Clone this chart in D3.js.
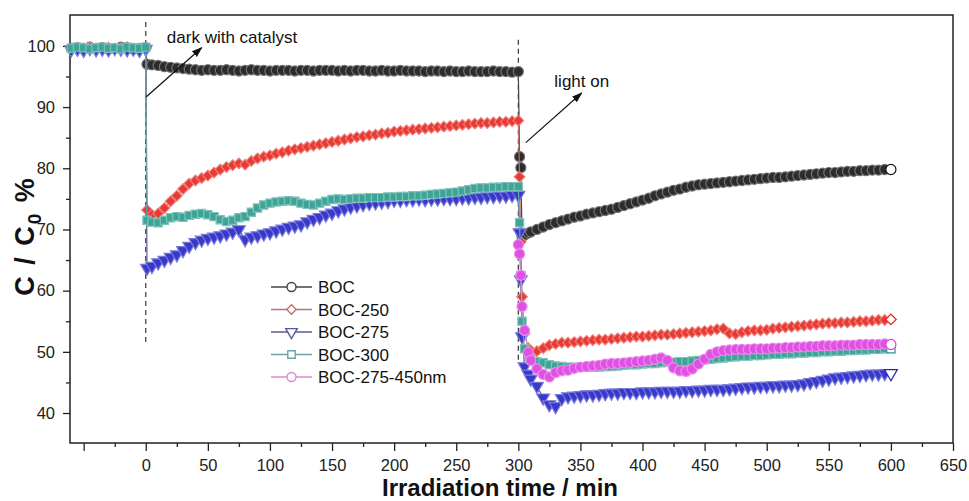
<!DOCTYPE html>
<html>
<head>
<meta charset="utf-8">
<script src="https://cdn.jsdelivr.net/npm/d3@7/dist/d3.min.js"></script>
<style>
body { margin: 0; background: #fff; }
svg text { font-family: Arial, "Liberation Sans", sans-serif; fill: #111; }
</style>
</head>
<body>
<svg id="chart" width="969" height="501"></svg>
<script>
// sampling times (min): dark equilibrium, adsorption in dark, then light on at 300
var times = [
    -60, -55, -50, -45, -40, -35, -30, -25, -20, -15, -10, -5, 0,
    1, 5, 10, 15, 20, 25, 30, 35, 40, 45,
    50, 55, 60, 65, 70, 75, 80, 85, 90, 95,
    100, 105, 110, 115, 120, 125, 130, 135, 140, 145,
    150, 155, 160, 165, 170, 175, 180, 185, 190, 195,
    200, 205, 210, 215, 220, 225, 230, 235, 240, 245,
    250, 255, 260, 265, 270, 275, 280, 285, 290, 295,
    300,
    301, 302, 303, 305, 308,
    310, 315, 320, 325, 330, 335, 340, 345, 350, 355,
    360, 365, 370, 375, 380, 385, 390, 395, 400, 405,
    410, 415, 420, 425, 430, 435, 440, 445, 450, 455,
    460, 465, 470, 475, 480, 485, 490, 495, 500, 505,
    510, 515, 520, 525, 530, 535, 540, 545, 550, 555,
    560, 565, 570, 575, 580, 585, 590, 595, 600
];

var boc = [
    99.6, 99.7, 99.5, 99.8, 99.6, 99.7, 99.5, 99.6, 99.8, 99.7, 99.5, 99.6, 99.7,
    97.0, 96.9, 96.8, 96.6, 96.5, 96.4, 96.3, 96.2, 96.1, 96.0,
    96.1, 96.0, 96.0, 96.1, 96.0, 95.9, 96.0, 96.1, 96.0, 96.0,
    95.9, 96.0, 96.0, 96.0, 95.9, 96.0, 96.0, 95.9, 96.0, 96.0,
    96.0, 95.9, 96.0, 95.9, 96.0, 96.0, 95.9, 95.9, 96.0, 95.9,
    95.9, 96.0, 95.9, 95.9, 95.9, 95.8, 95.9, 95.9, 95.8, 95.9,
    95.8, 95.8, 95.9, 95.8, 95.8, 95.8, 95.9, 95.8, 95.8, 95.7,
    95.8,
    81.9, 80.1, 68.8, 69.1, 69.4,
    69.6, 70.0, 70.4, 70.8, 71.1, 71.4, 71.7, 72.0, 72.2, 72.5,
    72.7, 72.9, 73.1, 73.3, 73.6, 73.9, 74.2, 74.5, 74.8, 75.1,
    75.5, 75.8, 76.1, 76.4, 76.6, 76.9, 77.1, 77.3, 77.4, 77.5,
    77.6, 77.7, 77.8, 77.9, 78.0, 78.1, 78.2, 78.3, 78.4, 78.5,
    78.5, 78.6, 78.7, 78.8, 78.9, 79.0, 79.1, 79.2, 79.3, 79.3,
    79.4, 79.5, 79.5, 79.6, 79.6, 79.7, 79.7, 79.8, 79.8
];

var boc250 = [
    99.5, 99.7, 99.6, 99.8, 99.5, 99.6, 99.7, 99.5, 99.6, 99.8, 99.6, 99.5, 99.6,
    73.2, 72.4, 72.6, 73.5, 74.6, 75.5, 76.6, 77.5, 78.0, 78.4,
    78.8, 79.3, 79.8, 80.2, 80.5, 80.8, 80.6, 81.2, 81.6, 81.9,
    82.1, 82.4, 82.6, 82.9, 83.1, 83.3, 83.5, 83.7, 83.9, 84.1,
    84.3, 84.5, 84.7, 84.9, 85.1, 85.2, 85.4, 85.5, 85.7, 85.8,
    86.0, 86.1, 86.2, 86.3, 86.4, 86.5, 86.6, 86.7, 86.8, 86.9,
    87.0, 87.1, 87.2, 87.3, 87.4, 87.4, 87.5, 87.6, 87.6, 87.7,
    87.8,
    78.6, 68.0, 59.0, 53.0, 50.6,
    50.2, 50.1, 50.6, 51.1, 51.3, 51.5, 51.5, 51.6, 51.7, 51.8,
    51.9, 52.0, 52.0, 52.1, 52.2, 52.3, 52.4, 52.5, 52.5, 52.6,
    52.7, 52.8, 52.8, 52.9, 53.0, 53.1, 53.2, 53.3, 53.4, 53.5,
    53.7, 53.8, 53.0, 52.9, 53.2, 53.4, 53.5, 53.5, 53.6, 53.8,
    53.9, 54.0, 54.1, 54.2, 54.3, 54.4, 54.5, 54.6, 54.7, 54.7,
    54.8, 54.8, 54.9, 55.0, 55.0, 55.1, 55.2, 55.2, 55.3
];

var boc275 = [
    99.4, 99.5, 99.3, 99.6, 99.4, 99.5, 99.4, 99.6, 99.5, 99.4, 99.5, 99.3, 99.5,
    63.7, 64.0, 64.6, 65.0, 65.5, 65.9, 66.6, 67.3, 67.9, 68.3,
    68.6, 68.8, 69.0, 69.3, 69.6, 70.0, 68.4, 68.8, 69.0, 69.3,
    69.5, 69.8, 70.1, 70.4, 70.6, 70.8, 71.3, 71.7, 72.0, 72.4,
    72.7, 73.1, 73.4, 73.7, 73.9, 74.1, 74.3, 74.4, 74.5, 74.6,
    74.8, 74.8, 74.9, 74.9, 75.0, 74.9, 75.0, 75.0, 75.1, 75.1,
    75.1, 75.2, 75.2, 75.3, 75.3, 75.4, 75.4, 75.5, 75.5, 75.6,
    75.6,
    69.5, 61.8, 52.5, 47.6, 46.4,
    45.6, 44.4, 42.5, 41.4, 41.1, 42.4, 42.7, 42.8, 42.9, 43.0,
    43.0, 43.1, 43.2, 43.3, 43.3, 43.4, 43.4, 43.4, 43.5, 43.5,
    43.5, 43.6, 43.6, 43.6, 43.6, 43.7, 43.7, 43.8, 43.8, 43.9,
    43.9, 43.9, 44.0, 44.1, 44.2, 44.3, 44.3, 44.4, 44.4, 44.5,
    44.5, 44.6, 44.6, 44.7, 44.8, 45.0, 45.2, 45.4, 45.6, 45.8,
    45.9, 46.0, 46.1, 46.2, 46.3, 46.4, 46.4, 46.5, 46.5
];

var boc300 = [
    99.6, 99.8, 99.7, 99.5, 99.7, 99.8, 99.6, 99.7, 99.5, 99.8, 99.7, 99.6, 99.8,
    71.5, 71.2, 71.1, 71.5, 71.9, 72.1, 72.0, 72.3, 72.5, 72.6,
    72.4, 72.1, 71.6, 71.3, 71.5, 71.9, 72.1, 72.8, 73.5, 74.0,
    74.3, 74.5, 74.6, 74.7, 74.6, 74.3, 74.1, 74.0, 74.3, 74.6,
    74.9, 75.0, 74.9, 75.0, 75.1, 75.1, 75.2, 75.2, 75.2, 75.3,
    75.3, 75.4, 75.4, 75.5, 75.5, 75.6, 75.7, 75.8, 75.9, 76.0,
    76.1, 76.3, 76.5, 76.7, 76.8, 76.8, 76.9, 76.9, 77.0, 77.0,
    77.0,
    71.1, 62.5, 55.0, 50.5, 49.4,
    48.9, 48.4, 48.2, 47.9, 47.7, 47.6, 47.5, 47.5, 47.5, 47.5,
    47.5, 47.5, 47.6, 47.6, 47.7, 47.8, 47.9, 47.9, 48.0, 48.1,
    48.1, 48.2, 48.3, 48.3, 48.4, 48.4, 48.5, 48.6, 48.7, 48.8,
    48.9, 49.0, 49.1, 49.2, 49.3, 49.3, 49.4, 49.4, 49.5, 49.6,
    49.6, 49.7, 49.7, 49.8, 49.8, 49.9, 49.9, 50.0, 50.0, 50.1,
    50.1, 50.2, 50.2, 50.3, 50.3, 50.4, 50.4, 50.5, 50.5
];

// 450nm run only recorded from t = 300 on (last values of times)
var boc275nm = [
    67.5,
    66.0, 62.5, 57.4, 53.5, 49.9,
    48.6, 47.2, 46.3, 45.9, 46.6, 46.9, 47.0, 47.3, 47.5, 47.6,
    47.7, 47.8, 48.0, 48.1, 48.1, 48.2, 48.3, 48.4, 48.5, 48.6,
    48.8, 49.0, 48.6, 47.4, 46.9, 46.8, 47.2, 48.0, 48.8, 49.6,
    50.0, 50.2, 50.3, 50.4, 50.4, 50.4, 50.5, 50.5, 50.5, 50.6,
    50.6, 50.7, 50.7, 50.8, 50.8, 50.9, 50.9, 51.0, 51.0, 51.0,
    51.1, 51.1, 51.1, 51.2, 51.2, 51.2, 51.2, 51.3, 51.2
];

var names = ['BOC', 'BOC-250', 'BOC-275', 'BOC-300', 'BOC-275-450nm'];
var seriesVals = [boc, boc250, boc275, boc300, boc275nm];

var xTicks = [-50, 0, 50, 100, 150, 200, 250, 300, 350, 400, 450, 500, 550, 600, 650];
var xMinor = [-25, 25, 75, 125, 175, 225, 275, 325, 375, 425, 475, 525, 575, 625];
var yTicks = [40, 50, 60, 70, 80, 90, 100];
var yMinor = [45, 55, 65, 75, 85, 95];

/*----------  styles  ----------*/
var colors = ['#151515', '#e5231b', '#2222c4', '#2a9a8c', '#dd3ee0'];
var legendColors = ['#444', '#c07070', '#5a5a9a', '#6aa6a6', '#d68ad6'];
var symbols = [d3.symbolCircle, d3.symbolSquare, d3.symbolTriangle, d3.symbolSquare, d3.symbolCircle];
var rotations = [0, 45, 180, 0, 0];
var sizes = [80, 56, 72, 68, 80];

var svg = d3.select('svg#chart');
var pLeft = 70, pRight = 953, pTop = 15, pBottom = 443;

var x = d3.scaleLinear().domain([-61, 650]).range([pLeft, pRight]);
var y = d3.scaleLinear().domain([35.1, 105.05]).range([pBottom, pTop]);

// frame
svg.append('rect')
    .attr('x', pLeft).attr('y', pTop)
    .attr('width', pRight - pLeft).attr('height', pBottom - pTop)
    .style('fill', 'none').style('stroke', '#222').style('stroke-width', 1.5);

// axes
svg.append('g').attr('transform', 'translate(0,' + pBottom + ')')
    .call(d3.axisBottom(x).tickValues(xTicks).tickSize(8).tickPadding(8)
        .tickFormat(function (d) { return d < 0 ? '' : d; }));
svg.append('g').attr('transform', 'translate(0,' + pBottom + ')')
    .call(d3.axisBottom(x).tickValues(xMinor).tickSize(4).tickFormat(''));
svg.append('g').attr('transform', 'translate(' + pLeft + ',0)')
    .call(d3.axisLeft(y).tickValues(yTicks).tickSize(7).tickPadding(8));
svg.append('g').attr('transform', 'translate(' + pLeft + ',0)')
    .call(d3.axisLeft(y).tickValues(yMinor).tickSize(4).tickFormat(''));

svg.selectAll('.domain').remove();
svg.selectAll('.tick line').style('stroke', '#222').style('stroke-width', 1.3);
svg.selectAll('.tick text').style('font-size', '16.5px').style('fill', '#222');

// axis titles
svg.append('text')
    .attr('x', 500).attr('y', 496)
    .attr('text-anchor', 'middle')
    .style('font-size', '24px').style('font-weight', 'bold')
    .text('Irradiation time / min');

var yt = svg.append('text')
    .attr('transform', 'translate(34,236) rotate(-90)')
    .attr('text-anchor', 'middle')
    .style('font-size', '27px').style('font-weight', 'bold')
    .style('letter-spacing', '2px');
yt.append('tspan').text('C / C');
yt.append('tspan').attr('dy', 7).style('font-size', '19px').text('0');
yt.append('tspan').attr('dy', -7).text(' %');

// dashed markers of the phase changes
var phaseLines = [[0, 103.9, 51.2], [300, 101.0, 48.3]];
svg.selectAll('line.phase').data(phaseLines).enter().append('line')
    .attr('class', 'phase')
    .attr('x1', d => x(d[0])).attr('x2', d => x(d[0]))
    .attr('y1', d => y(d[1])).attr('y2', d => y(d[2]))
    .style('stroke', '#333').style('stroke-width', 1.2)
    .style('stroke-dasharray', '5,4');

// data
var line = d3.line().x(d => x(d.t)).y(d => y(d.v));

seriesVals.forEach(function (vals, i) {
    var tt = times.slice(times.length - vals.length);
    var pts = vals.map(function (v, j) { return { t: tt[j], v: v }; });
    var g = svg.append('g').attr('class', 'series');
    g.append('path').datum(pts)
        .attr('d', line)
        .style('fill', 'none')
        .style('stroke', legendColors[i])
        .style('stroke-width', 1.2);
    var sym = d3.symbol().type(symbols[i]).size(sizes[i]);
    var tint = d3.interpolateRgb(colors[i], '#fff')(0.1);
    var edge = d3.interpolateRgb(colors[i], '#fff')(0.4);
    g.selectAll('path.m').data(pts).enter().append('path')
        .attr('class', 'm')
        .attr('d', sym)
        .attr('transform', d => 'translate(' + x(d.t) + ',' + y(d.v) + ') rotate(' + rotations[i] + ')')
        .style('fill', (d, j) => j === pts.length - 1 ? '#fff' : tint)
        .style('stroke', (d, j) => j === pts.length - 1 ? colors[i] : edge)
        .style('stroke-width', 1.2);
});

// annotations
svg.append('defs').append('marker')
    .attr('id', 'arrow').attr('viewBox', '0 0 10 10')
    .attr('refX', 9).attr('refY', 5)
    .attr('markerWidth', 9).attr('markerHeight', 9)
    .attr('orient', 'auto')
    .append('path').attr('d', 'M0,1.5 L10,5 L0,8.5 Z').style('fill', '#111');

var arrows = [[0.5, 91.7, 45, 99.7], [306, 84.2, 351, 92.3]];
svg.selectAll('line.arrow').data(arrows).enter().append('line')
    .attr('class', 'arrow')
    .attr('x1', d => x(d[0])).attr('y1', d => y(d[1]))
    .attr('x2', d => x(d[2])).attr('y2', d => y(d[3]))
    .style('stroke', '#111').style('stroke-width', 1.2)
    .attr('marker-end', 'url(#arrow)');

svg.append('text').attr('x', x(17)).attr('y', y(100.5))
    .style('font-size', '17px').text('dark with catalyst');
svg.append('text').attr('x', x(329)).attr('y', y(93.3))
    .style('font-size', '17px').text('light on');

// legend
var legend = svg.append('g').attr('transform', 'translate(271,287)');
names.forEach(function (n, i) {
    var row = legend.append('g').attr('transform', 'translate(0,' + (i * 22.5) + ')');
    row.append('line').attr('x1', 0).attr('x2', 41)
        .style('stroke', legendColors[i]).style('stroke-width', 1.4);
    row.append('path')
        .attr('d', d3.symbol().type(symbols[i]).size(sizes[i] * 0.8)())
        .attr('transform', 'translate(20.5,0) rotate(' + rotations[i] + ')')
        .style('fill', '#fff').style('stroke', legendColors[i]).style('stroke-width', 1.4);
    row.append('text').attr('x', 47).attr('dy', '0.36em')
        .style('font-size', '17px').text(n);
});
</script>
</body>
</html>
